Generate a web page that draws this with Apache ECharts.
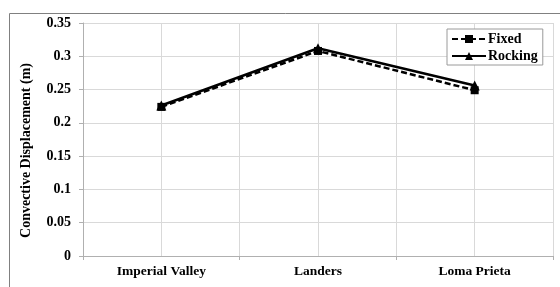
<!DOCTYPE html>
<html>
<head>
<meta charset="utf-8">
<script src="https://cdn.jsdelivr.net/npm/echarts@6/dist/echarts.min.js"></script>
<style>
  html, body { margin: 0; padding: 0; background: #fff; }
  #chart { width: 560px; height: 287px; }
</style>
</head>
<body>
<div id="chart"></div>
<script>
  const categories = ['Imperial Valley', 'Landers', 'Loma Prieta']
  const fixedValues = [0.224, 0.308, 0.249]
  const rockingValues = [0.226, 0.312, 0.256]
  const yTicks = { min: 0, max: 0.35, interval: 0.05 }

  const font = 'Liberation Serif'
  const gridColor = '#d9d9d9'
  const axisColor = '#b0b0b0'

  const chart = echarts.init(document.getElementById('chart'))

  chart.setOption({
    animation: false,
    textStyle: { fontFamily: font },
    graphic: [
      {
        type: 'rect',
        left: 7,
        top: 11,
        shape: { width: 600, height: 300 },
        style: { fill: 'none', stroke: '#808080', lineWidth: 1 },
        z: -1,
      },
    ],
    grid: { left: 83, right: 7, top: 23, bottom: 31 },
    legend: {
      orient: 'vertical',
      left: 447,
      top: 29,
      padding: [3, 5, 2, 4],
      itemGap: 3,
      itemWidth: 34,
      itemHeight: 10,
      borderColor: '#9a9a9a',
      borderWidth: 1,
      backgroundColor: '#fff',
      textStyle: { fontFamily: font, fontWeight: 'bold', fontSize: 14, color: '#000', padding: [0, 0, 0, -3] },
      data: ['Fixed', 'Rocking'],
    },
    xAxis: {
      type: 'category',
      data: categories,
      boundaryGap: true,
      axisLine: { lineStyle: { color: axisColor } },
      axisTick: { show: true, length: 4, lineStyle: { color: axisColor } },
      axisLabel: { margin: 9, fontFamily: font, fontWeight: 'bold', fontSize: 13.5, color: '#000' },
      splitLine: { show: true, interval: 0, lineStyle: { color: gridColor } },
    },
    yAxis: {
      type: 'value',
      min: yTicks.min,
      max: yTicks.max,
      interval: yTicks.interval,
      name: 'Convective Displacement (m)',
      nameLocation: 'middle',
      nameGap: 50,
      nameTextStyle: { fontFamily: font, fontWeight: 'bold', fontSize: 14, color: '#000', padding: [0, 22, 0, 0] },
      axisLine: { show: true, lineStyle: { color: axisColor } },
      axisTick: { show: true, length: 4, lineStyle: { color: axisColor } },
      axisLabel: { margin: 12, fontFamily: font, fontWeight: 'bold', fontSize: 14, color: '#000' },
      splitLine: { show: true, lineStyle: { color: gridColor } },
    },
    series: [
      {
        name: 'Fixed',
        type: 'line',
        data: fixedValues,
        symbol: 'rect',
        symbolSize: 8,
        itemStyle: { color: '#000' },
        lineStyle: { color: '#000', width: 2.5, type: [6, 3] },
        z: 3,
        markLine: {
          silent: true,
          symbol: 'none',
          label: { show: false },
          lineStyle: { color: gridColor, type: 'solid', width: 1 },
          z: 1,
          data: categories.map((c) => ({ xAxis: c })),
        },
      },
      {
        name: 'Rocking',
        type: 'line',
        data: rockingValues,
        symbol: 'triangle',
        symbolSize: 10,
        itemStyle: { color: '#000' },
        lineStyle: { color: '#000', width: 2.5 },
        z: 4,
      },
    ],
  })
</script>
</body>
</html>
